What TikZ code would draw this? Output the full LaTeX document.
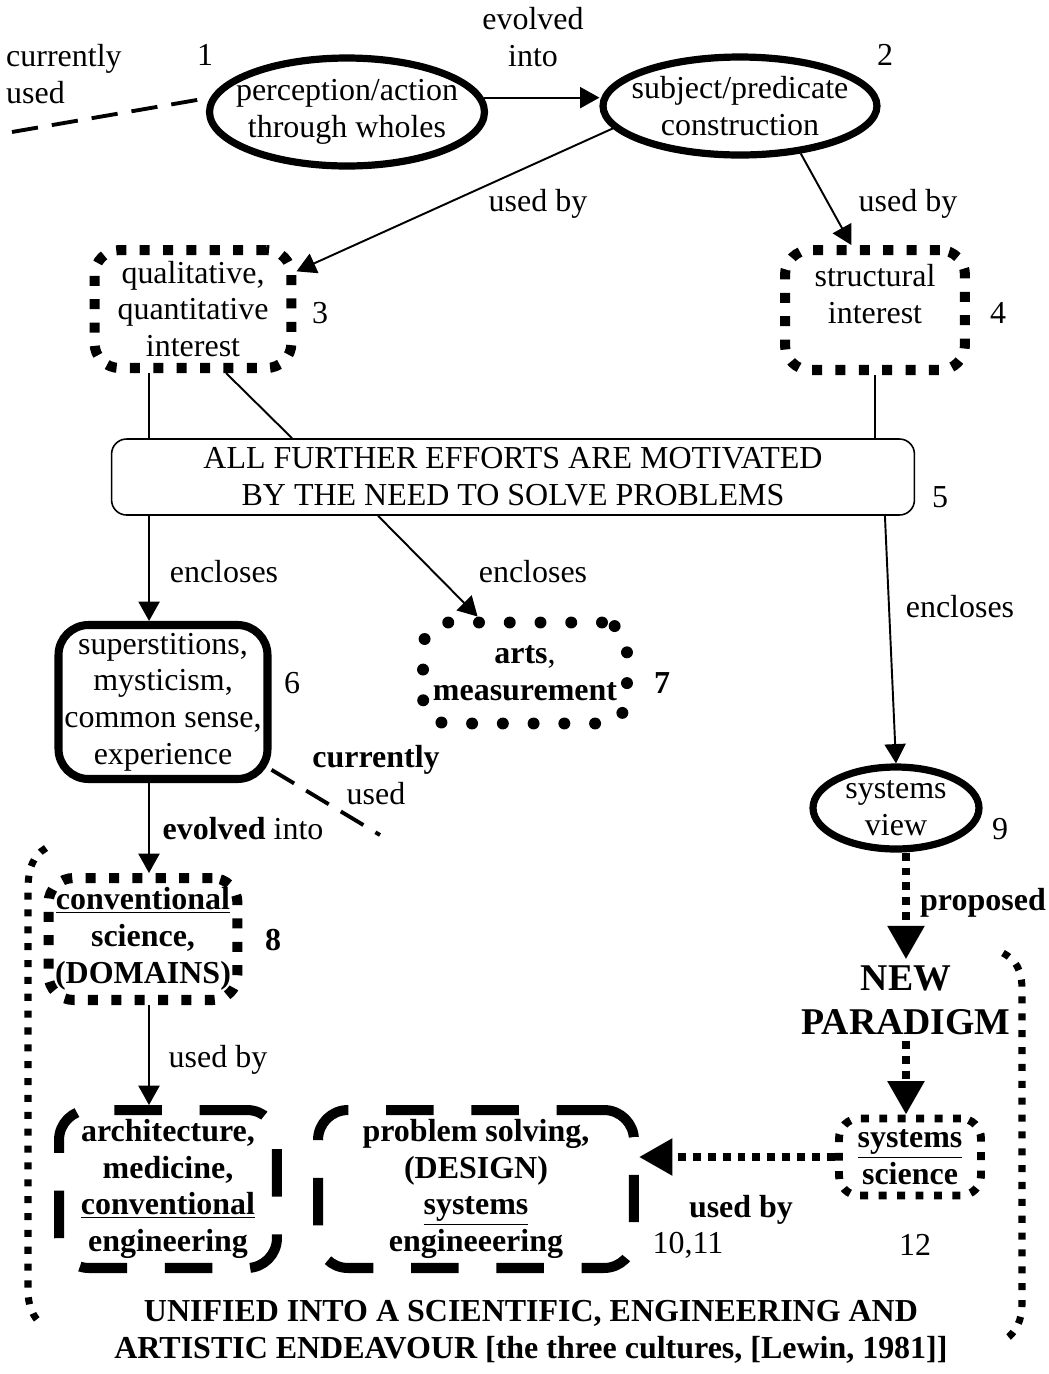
\documentclass[tikz,border=0pt]{standalone}
\usepackage{fontspec}
\setmainfont{Liberation Serif}
\usetikzlibrary{arrows.meta,shapes.geometric}

\newcommand\txt{\fontsize{18.2}{20.9}\selectfont}
\newcommand\bigtxt{\fontsize{21.5}{25}\selectfont\bfseries}

\tikzstyle{arr}=[line width=1.1pt,-{Triangle[length=11pt,width=12pt]}]
\tikzstyle{dotarr}=[line width=4.5pt,dash pattern=on 4.5pt off 4pt,-{Triangle[length=19pt,width=20pt]}]
\tikzstyle{link}=[line width=1.1pt]
\tikzstyle{used}=[line width=2.2pt,dash pattern=on 15pt off 8pt]
\tikzstyle{bold}=[font=\txt\bfseries]
\tikzstyle{ell}=[draw,ellipse,line width=4.1pt,inner sep=-.5cm]
\tikzstyle{sqbox}=[draw,rounded corners=.5cm,line width=5.7pt,dash pattern=on 5.7pt off 7.6pt,inner sep=0pt]
\tikzstyle{smallsq}=[draw,rounded corners=.4cm,line width=4.5pt,dash pattern=on 4.5pt off 6pt,inner sep=0pt]
\tikzstyle{dotbox}=[draw,rounded corners=.5cm,line width=6.8pt,line cap=round,dash pattern=on 0pt off 17.5pt,inner sep=0pt]
\tikzstyle{dashbox}=[draw,rounded corners=.6cm,line width=5.7pt,dash pattern=on 27pt off 21.5pt,inner sep=0pt]
\tikzstyle{solidbox}=[draw,rounded corners=.6cm,line width=4.6pt,inner sep=0pt]
\tikzstyle{thinbox}=[draw,rounded corners=.3cm,line width=.9pt,inner sep=0pt]
\tikzstyle{bracket}=[line width=4pt,dash pattern=on 4pt off 5.6pt]

\begin{document}
\begin{tikzpicture}[x=0.02cm,y=-0.02cm,every node/.style={font=\txt,align=center}]
	\useasboundingbox (0,0) rectangle (1049,1374);

	% top: wholes and subject/predicate
	\node[ell,minimum width=5.5cm,minimum height=2.16cm] (per1) at (347,112) {perception/action\\through wholes};
	\node[ell,minimum width=5.48cm,minimum height=1.96cm] (sub2) at (740,106) {subject/predicate\\construction};
	\node[align=left,anchor=west] (cu1txt) at (0,74) {currently\\used};
	\node (n1) at (205,55) {1};
	\node (n2) at (885,55) {2};
	\node (evo) at (533,37) {evolved\\into};

	% interests
	\node[sqbox,minimum width=3.94cm,minimum height=2.36cm] (qual3) at (193,309) {qualitative,\\quantitative\\interest};
	\node[sqbox,minimum width=3.6cm,minimum height=2.4cm] (struct4) at (875,310) {structural\\interest\\[-9pt]\strut};
	\node (usd3) at (538,204) {used by};
	\node (usd4) at (908,204) {used by};
	\node (n3) at (320,313) {3};
	\node (n4) at (998,313) {4};

	\node[thinbox,minimum width=16.06cm,minimum height=1.52cm] (all5) at (513,477) {ALL FURTHER EFFORTS ARE MOTIVATED\\BY THE NEED TO SOLVE PROBLEMS};
	\node (n5) at (940,497) {5};

	% what is enclosed
	\node[solidbox,minimum width=4.18cm,minimum height=3.08cm] (sup6) at (163,702) {superstitions,\\mysticism,\\common sense,\\experience};
	\node[dotbox,minimum width=4.08cm,minimum height=2.02cm] (arts7) at (525,673) {\textbf{arts},\\\textbf{measurement}};
	\node[ell,minimum width=3.32cm,minimum height=1.64cm] (sys9) at (896,808) {systems\\view};
	\node (enc6) at (224,572) {encloses};
	\node (enc7) at (533,572) {encloses};
	\node (enc9) at (960,607) {encloses};
	\node (n6) at (292,683) {6};
	\node[bold] (n7) at (662,683) {7};
	\node (n9) at (1000,829) {9};
	\node (cu6txt) at (376,775) {\textbf{currently}\\used};
	\node (evo8) at (243,829) {\textbf{evolved} into};

	\node[sqbox,bold,minimum width=3.78cm,minimum height=2.44cm] (conv8) at (143,939) {\underline{conventional}\\science,\\(DOMAINS)};
	\node[bold] (n8) at (273,940) {8};
	\node[bold] (prop) at (983,903) {proposed};
	\node[font=\bigtxt] (para) at (906,1000) {NEW\\PARADIGM};

	% bottom row
	\node[dashbox,bold,minimum width=4.36cm,minimum height=3.16cm] (arch10) at (168,1189) {architecture,\\medicine,\\\underline{conventional}\\engineering};
	\node[dashbox,bold,minimum width=6.32cm,minimum height=3.16cm] (prob11) at (476,1189) {problem solving,\\(DESIGN)\\\underline{systems}\\engineeering};
	\node[smallsq,bold,minimum width=2.84cm,minimum height=1.54cm] (sci12) at (910,1157) {\underline{systems}\\science};
	\node (usd10) at (218,1060) {used by};
	\node[bold] (usd11) at (741,1210) {used by};
	\node (n1011) at (688,1245) {10,11};
	\node (n12) at (915,1245) {12};
	\node[bold] (unif) at (531,1332) {UNIFIED INTO A SCIENTIFIC, ENGINEERING AND\\ARTISTIC ENDEAVOUR [the three cultures, [Lewin, 1981]]};

	\coordinate (cu1) at (12,132);
	\coordinate (cu6) at (380,835);
	\coordinate (q3l) at ([xshift=-.88cm]qual3.south);
	\coordinate (q3r) at ([xshift=.66cm]qual3.south);
	\coordinate (a5q) at ([xshift=-4.42cm]all5.north);
	\coordinate (a5l) at ([xshift=-7.28cm]all5.south);
	\coordinate (a5m) at ([xshift=-2.7cm]all5.south);
	\coordinate (a5r) at ([xshift=7.44cm]all5.south);
	\coordinate (s6b) at ([xshift=-.28cm]sup6.south);
	\coordinate (c8b) at ([xshift=.12cm]conv8.south);

	\draw[used] (cu1) -- (per1.174);
	\draw[arr] (per1.6) -- (per1.6 -| sub2.west);
	\draw[arr] (sub2.190) -- (qual3.20);
	\draw[arr] (sub2.-38) -- (struct4.110);
	\draw[link] (q3l) -- (q3l |- all5.north);
	\draw[link] (q3r) -- (a5q);
	\draw[link] (struct4.south) -- (struct4.south |- all5.north);
	\draw[arr] (a5l) -- (a5l |- sup6.north);
	\draw[arr] (a5m) -- (arts7.130);
	\draw[arr] (a5r) -- (sys9.north);
	\draw[used] (sup6.-32) -- (cu6);
	\draw[arr] (s6b) -- (s6b |- conv8.north);
	\draw[arr] (c8b) -- (c8b |- arch10.north);
	\draw[dotarr] (sys9.south -| para.north) -- (para.north);
	\draw[dotarr] (para.south) -- (para.south |- sci12.north);
	\draw[dotarr] (sci12.west) -- (sci12.west -| prob11.east);

	% the two open brackets round the lower part
	\draw[bracket] (46,848) .. controls (33,856) and (28,868) .. (28,890) -- (28,1290) .. controls (28,1305) and (32,1316) .. (42,1325);
	\draw[bracket] (1003,953) .. controls (1016,960) and (1022,970) .. (1022,990) -- (1022,1305) .. controls (1022,1320) and (1016,1332) .. (1005,1340);
\end{tikzpicture}
\end{document}
